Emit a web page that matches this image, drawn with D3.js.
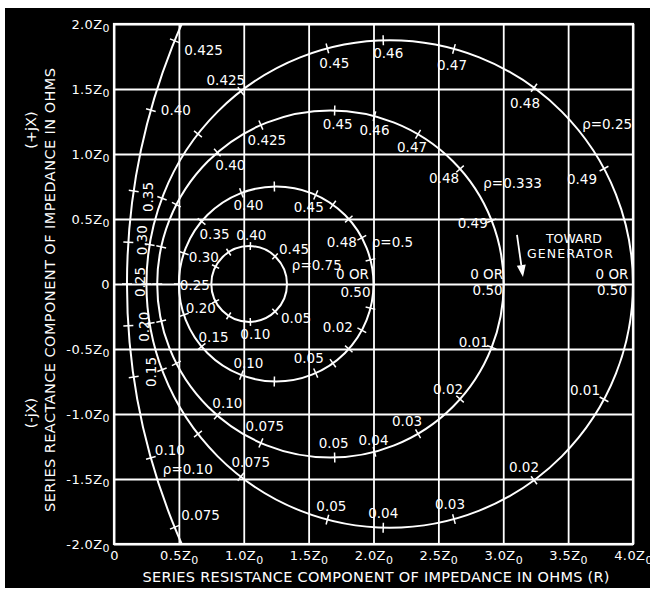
<!DOCTYPE html>
<html>
<head>
<meta charset="utf-8">
<script src="https://cdn.jsdelivr.net/npm/d3@7"></script>
<style>
  html, body { margin: 0; padding: 0; background: #fff; }
  svg { display: block; }
  text { font-family: "DejaVu Sans", sans-serif; fill: #fff; }
</style>
</head>
<body>
<svg id="chart" width="652" height="589"></svg>
<script>
// Impedance chart of a mismatched line: circles of constant rho (1/VSWR) drawn in the
// series R / series X plane, graduated in wavelengths toward the generator.

// ---- axes ----
const resistanceTicks = [0, 0.5, 1.0, 1.5, 2.0, 2.5, 3.0, 3.5, 4.0];
const resistanceTickLabels = ["0", "0.5Z0", "1.0Z0", "1.5Z0", "2.0Z0", "2.5Z0", "3.0Z0", "3.5Z0", "4.0Z0"];
const reactanceTicks = [2.0, 1.5, 1.0, 0.5, 0, -0.5, -1.0, -1.5, -2.0];
const reactanceTickLabels = ["2.0Z0", "1.5Z0", "1.0Z0", "0.5Z0", "0", "-0.5Z0", "-1.0Z0", "-1.5Z0", "-2.0Z0"];

// ---- circles of constant rho ----
const rhoValues = [0.75, 0.5, 0.333, 0.25, 0.10];
const rhoLabels = ["0.75", "0.5", "0.333", "0.25", "0.10"];

// wavelength graduations carried by each circle
const wavelengthMarks = [0.01, 0.02, 0.03, 0.04, 0.05, 0.075, 0.10, 0.15, 0.20, 0.25,
                         0.30, 0.35, 0.40, 0.425, 0.45, 0.46, 0.47, 0.48, 0.49];
const innerCircleMarks = [0.05, 0.10, 0.15, 0.20, 0.30, 0.35, 0.40, 0.45];

// graduations that carry a number, per circle
const labelsRho075 = [0.40, 0.45, 0.05, 0.10];
const labelsRho050 = [0.40, 0.45, 0.48, 0.02, 0.05, 0.10, 0.15, 0.20, 0.25, 0.30, 0.35];
const labelsRho0333 = [0.40, 0.425, 0.45, 0.46, 0.47, 0.48, 0.49, 0.01, 0.02, 0.03, 0.04, 0.05, 0.075, 0.10];
const labelsRho025 = [0.425, 0.45, 0.46, 0.47, 0.48, 0.49, 0.01, 0.02, 0.03, 0.04, 0.05, 0.075];
const labelsRho010 = [0.425, 0.40, 0.35, 0.30, 0.25, 0.20, 0.15, 0.10, 0.075];

const markSets = [innerCircleMarks, wavelengthMarks, wavelengthMarks, wavelengthMarks, wavelengthMarks];
const labelSets = [labelsRho075, labelsRho050, labelsRho0333, labelsRho025, labelsRho010];
// circles whose right-hand crossing carries "0 OR / 0.50"
const zeroLabelled = [1, 2, 3];

// ---- layout: label offsets (px) from their graduation, "r" = set vertically ----
const labelOffsets = [
  { 0.40: [1, -11], 0.45: [19, -7], 0.05: [21, 6], 0.10: [5, 12] },
  { 0.40: [7, 12], 0.45: [-7, 12], 0.48: [-20, 4], 0.02: [-24, -3], 0.05: [-7, -15], 0.10: [7, -12],
    0.15: [12, -10], 0.20: [17, -7], 0.25: [16, 1], 0.30: [20, 4], 0.35: [13, 13] },
  { 0.40: [13, 12], 0.425: [6, 15], 0.45: [3, 13], 0.46: [0, 14], 0.47: [-6, 13], 0.48: [-16, 9],
    0.49: [-19, 2], 0.01: [-18, -5], 0.02: [-12, -10], 0.03: [-11, -13], 0.04: [-1, -12],
    0.05: [-1, -14], 0.075: [4, -17], 0.10: [10, -12] },
  { 0.425: [-15, -11], 0.45: [7, 15], 0.46: [5, 13], 0.47: [-2, 16], 0.48: [-9, 15], 0.49: [-22, 10],
    0.01: [-19, -9], 0.02: [-10, -13], 0.03: [-4, -15], 0.04: [0, -15], 0.05: [4, -14], 0.075: [10, -15] },
  { 0.425: [29, 9], 0.40: [25, 0], 0.35: [14, 6, "r"], 0.30: [14, -2, "r"], 0.25: [13, -2, "r"],
    0.20: [16, 1, "r"], 0.15: [17, -5, "r"], 0.10: [19, -8], 0.075: [26, -12] }
];
const zeroLabelOffsets = { 1: [[-21, -10], [-18, 8]], 2: [[-17, -10], [-16, 6]], 3: [[-21, -10], [-21, 6]] };
// where each "rho = ..." name sits: graduation it hangs from and offset
const nameAnchors = [[0.485, 6, -10], [0.485, 5, -6], [0.485, 5.5, -10], [0.485, 10, 1], [0.10, 12, 11]];

// ---- scales ----
const plot = { left: 114, right: 633, top: 24, bottom: 544 };
const x = d3.scaleLinear().domain([0, 4]).range([plot.left, plot.right]);
const y = d3.scaleLinear().domain([-2, 2]).range([plot.bottom, plot.top]);

const svg = d3.select("#chart");
svg.append("rect").attr("x", 5).attr("y", 8).attr("width", 645).attr("height", 580).attr("fill", "#000");

svg.append("defs").append("clipPath").attr("id", "plotClip")
  .append("rect").attr("x", plot.left).attr("y", plot.top)
  .attr("width", plot.right - plot.left).attr("height", plot.bottom - plot.top);

function addSubscript(sel, labels) {
  sel.each(function (d, i) {
    const t = d3.select(this);
    const s = labels[i];
    t.text(null);
    if (s.endsWith("Z0")) {
      t.append("tspan").text(s.slice(0, -1));
      t.append("tspan").attr("font-size", 11).attr("dy", 3.5).text("0");
    } else {
      t.text(s);
    }
  });
}

// grid + tick labels from the axes
const gx = svg.append("g")
  .attr("transform", `translate(0,${plot.bottom})`)
  .call(d3.axisBottom(x).tickValues(resistanceTicks)
    .tickSizeInner(-(plot.bottom - plot.top)).tickSizeOuter(0).tickPadding(7));
gx.select(".domain").remove();
gx.attr("color", "#fff").attr("font-size", 13).attr("letter-spacing", 0.4)
  .attr("font-family", "DejaVu Sans, sans-serif");
gx.selectAll(".tick line").attr("stroke-width", 1.8);
addSubscript(gx.selectAll(".tick text"), resistanceTickLabels);

const gy = svg.append("g")
  .attr("transform", `translate(${plot.left},0)`)
  .call(d3.axisLeft(y).tickValues(reactanceTicks)
    .tickSizeInner(-(plot.right - plot.left)).tickSizeOuter(0).tickPadding(4));
gy.select(".domain").remove();
gy.attr("color", "#fff").attr("font-size", 13).attr("letter-spacing", 0.4)
  .attr("font-family", "DejaVu Sans, sans-serif");
gy.selectAll(".tick line").attr("stroke-width", 1.8);
addSubscript(gy.selectAll(".tick text"), reactanceTickLabels);

svg.append("rect")
  .attr("x", plot.left).attr("y", plot.top)
  .attr("width", plot.right - plot.left).attr("height", plot.bottom - plot.top)
  .attr("fill", "none").attr("stroke", "#fff").attr("stroke-width", 2.2);

// ---- circle geometry ----
function circleOf(i) {
  const rho = rhoValues[i];
  return { c: (rho + 1 / rho) / 2, rad: (1 / rho - rho) / 2 };
}
// normalised impedance at distance d (wavelengths toward generator) from the voltage maximum
function pointAt(i, d) {
  const rho = rhoValues[i];
  const g = (1 - rho) / (1 + rho);
  const phi = -4 * Math.PI * d;
  const den = 1 - 2 * g * Math.cos(phi) + g * g;
  return { r: (1 - g * g) / den, xr: 2 * g * Math.sin(phi) / den };
}
const fmt = v => v.toFixed(Math.round(v * 1000) % 10 ? 3 : 2);

const marks = svg.append("g").attr("clip-path", "url(#plotClip)");
rhoValues.forEach((rho, i) => {
  const { c, rad } = circleOf(i);
  marks.append("ellipse")
    .attr("cx", x(c)).attr("cy", y(0))
    .attr("rx", x(c + rad) - x(c)).attr("ry", y(0) - y(rad))
    .attr("fill", "none").attr("stroke", "#fff").attr("stroke-width", 2);

  const half = i === 0 ? 4 : 5;
  markSets[i].forEach(d => {
    const p = pointAt(i, d);
    const px = x(p.r), py = y(p.xr);
    let nx = px - x(c), ny = py - y(0);
    const len = Math.hypot(nx, ny);
    nx /= len; ny /= len;
    marks.append("line")
      .attr("x1", px - nx * half).attr("y1", py - ny * half)
      .attr("x2", px + nx * half).attr("y2", py + ny * half)
      .attr("stroke", "#fff").attr("stroke-width", 1.5);
  });
});

// ---- graduation numbers ----
const labelLayer = svg.append("g").attr("font-size", 13.5);
labelSets.forEach((set, i) => {
  set.forEach(d => {
    const p = pointAt(i, d);
    const off = labelOffsets[i][d];
    const lx = x(p.r) + off[0], ly = y(p.xr) + off[1];
    const t = labelLayer.append("text")
      .attr("x", lx).attr("y", ly)
      .attr("text-anchor", "middle").attr("dominant-baseline", "central")
      .text(fmt(d));
    if (off[2] === "r") t.attr("transform", `rotate(-90,${lx},${ly})`);
  });
});

zeroLabelled.forEach(i => {
  const p = pointAt(i, 0);
  const [o1, o2] = zeroLabelOffsets[i];
  labelLayer.append("text").attr("x", x(p.r) + o1[0]).attr("y", y(p.xr) + o1[1])
    .attr("text-anchor", "middle").attr("dominant-baseline", "central").text("0 OR");
  labelLayer.append("text").attr("x", x(p.r) + o2[0]).attr("y", y(p.xr) + o2[1])
    .attr("text-anchor", "middle").attr("dominant-baseline", "central").text(fmt(0.5));
});

rhoLabels.forEach((name, i) => {
  const [d, dx, dy] = nameAnchors[i];
  const p = pointAt(i, d);
  labelLayer.append("text")
    .attr("x", x(p.r) + dx).attr("y", y(p.xr) + dy)
    .attr("text-anchor", "start").attr("dominant-baseline", "central")
    .text("\u03C1=" + name);
});

// ---- direction note ----
const note = svg.append("g").attr("font-size", 12.5);
note.append("text").attr("x", x(3.545)).attr("y", y(0.35))
  .attr("text-anchor", "middle").attr("dominant-baseline", "central").text("TOWARD");
note.append("text").attr("x", x(3.514)).attr("y", y(0.232))
  .attr("text-anchor", "middle").attr("dominant-baseline", "central")
  .attr("textLength", 86).attr("lengthAdjust", "spacing").text("GENERATOR");

const a0 = [x(3.106), y(0.377)], a1 = [x(3.152), y(0.054)];
{
  let ux = a1[0] - a0[0], uy = a1[1] - a0[1];
  const L = Math.hypot(ux, uy); ux /= L; uy /= L;
  const headLen = 12, headHalf = 4.5;
  const bx = a1[0] - ux * headLen, by = a1[1] - uy * headLen;
  svg.append("line").attr("x1", a0[0]).attr("y1", a0[1]).attr("x2", bx).attr("y2", by)
    .attr("stroke", "#fff").attr("stroke-width", 1.8);
  svg.append("path")
    .attr("d", `M${a1[0]},${a1[1]}L${bx - uy * headHalf},${by + ux * headHalf}L${bx + uy * headHalf},${by - ux * headHalf}Z`)
    .attr("fill", "#fff");
}

// ---- axis titles ----
svg.append("text").attr("x", 376).attr("y", 582)
  .attr("text-anchor", "middle").attr("font-size", 14.5)
  .attr("textLength", 467).attr("lengthAdjust", "spacing")
  .text("SERIES RESISTANCE COMPONENT OF IMPEDANCE IN OHMS (R)");

svg.append("text").attr("transform", "translate(55,290) rotate(-90)")
  .attr("text-anchor", "middle").attr("font-size", 14.5)
  .attr("textLength", 444).attr("lengthAdjust", "spacing")
  .text("SERIES REACTANCE COMPONENT OF IMPEDANCE IN OHMS");
svg.append("text").attr("transform", "translate(36,130) rotate(-90)")
  .attr("text-anchor", "middle").attr("font-size", 14.5).text("(+jX)");
svg.append("text").attr("transform", "translate(36,413) rotate(-90)")
  .attr("text-anchor", "middle").attr("font-size", 14.5).text("(-jX)");
</script>
</body>
</html>
